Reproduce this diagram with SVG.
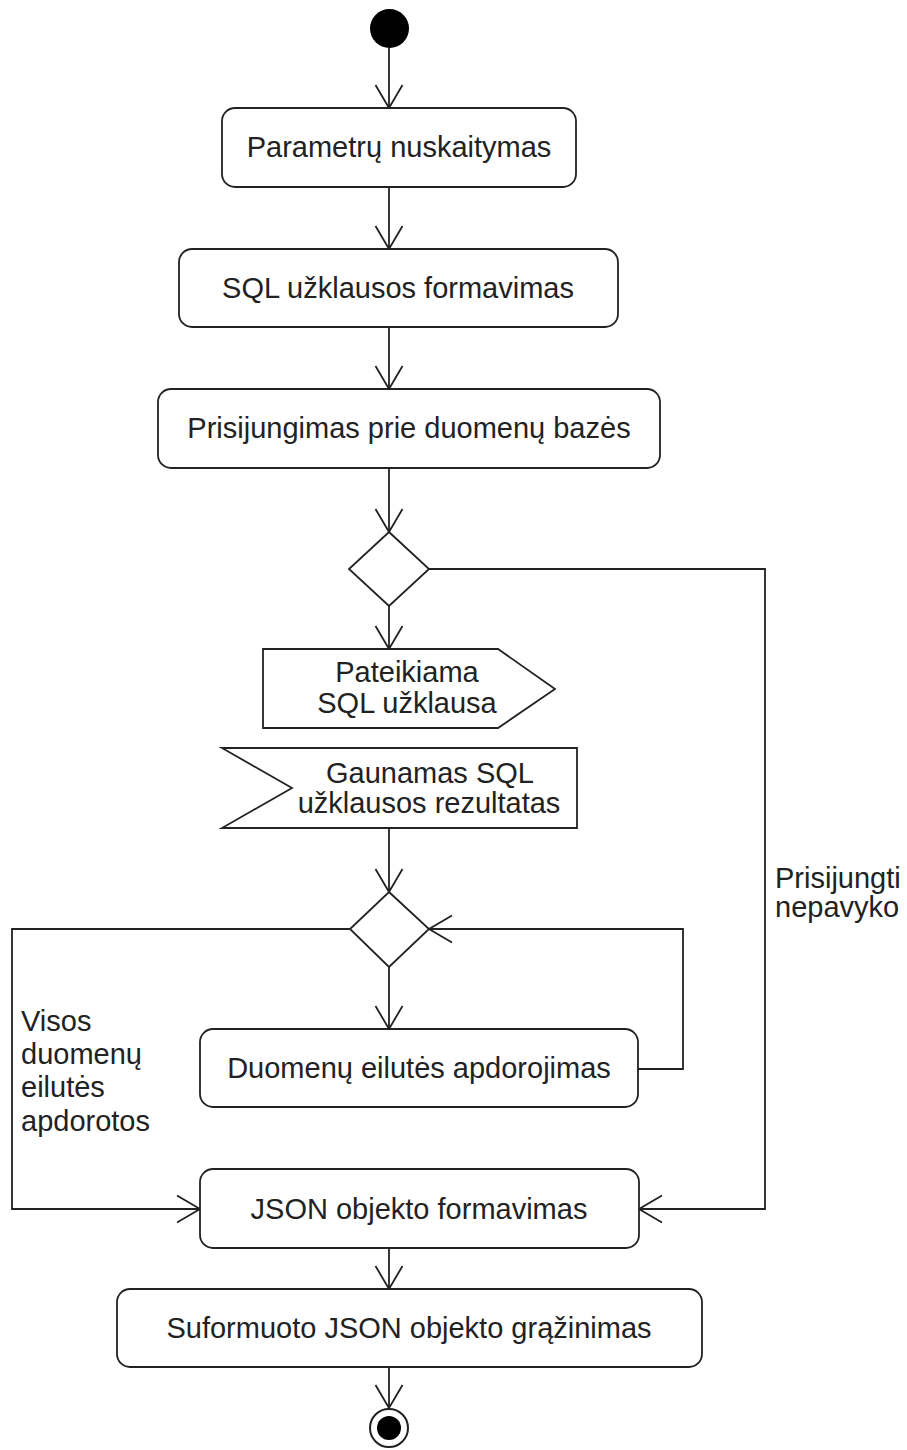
<svg xmlns="http://www.w3.org/2000/svg" width="907" height="1450" viewBox="0 0 907 1450">
<style>
.n{fill:#fff;stroke:#222;stroke-width:1.8}
.t{font-family:"Liberation Sans",Arial,sans-serif;font-size:29px;fill:#222;text-anchor:middle}
.l{font-family:"Liberation Sans",Arial,sans-serif;font-size:29px;fill:#222}
.c{fill:none;stroke:#222;stroke-width:1.8}
</style>
<defs>
<marker id="arr" viewBox="-26 -15 30 30" markerWidth="30" markerHeight="30" refX="0" refY="0" orient="auto" markerUnits="userSpaceOnUse">
<path d="M-23,-13.5 L0,0 L-23,13.5" fill="none" stroke="#222" stroke-width="1.8"/>
</marker>
</defs>
<rect width="907" height="1450" fill="#fff"/>
<g id="connectors">
<path class="c" d="M389,48 V108" marker-end="url(#arr)"/>
<path class="c" d="M389,187 V249" marker-end="url(#arr)"/>
<path class="c" d="M389,327 V389" marker-end="url(#arr)"/>
<path class="c" d="M389,468 V532" marker-end="url(#arr)"/>
<path class="c" d="M389,606 V649" marker-end="url(#arr)"/>
<path class="c" d="M429,569 H765 V1209 H639" marker-end="url(#arr)"/>
<path class="c" d="M389,828 V892" marker-end="url(#arr)"/>
<path class="c" d="M389,967 V1029" marker-end="url(#arr)"/>
<path class="c" d="M638,1069 H683 V929 H429" marker-end="url(#arr)"/>
<path class="c" d="M350,929 H12 V1209 H200" marker-end="url(#arr)"/>
<path class="c" d="M389,1248 V1289" marker-end="url(#arr)"/>
<path class="c" d="M389,1367 V1408" marker-end="url(#arr)"/>
</g>
<g id="start"><circle cx="389.5" cy="28.5" r="19.5" fill="#000"/></g>
<g id="n1"><rect class="n" x="222" y="108" width="354" height="79" rx="13"/><text class="t" x="399" y="157">Parametrų nuskaitymas</text></g>
<g id="n2"><rect class="n" x="179" y="249" width="439" height="78" rx="13"/><text class="t" x="398" y="298">SQL užklausos formavimas</text></g>
<g id="n3"><rect class="n" x="158" y="389" width="502" height="79" rx="13"/><text class="t" x="409" y="438">Prisijungimas prie duomenų bazės</text></g>
<g id="d1"><polygon class="n" points="389,532 429,569 389,606 349,569"/></g>
<g id="send"><polygon class="n" points="263,649 498,649 555,689 498,728 263,728"/><text class="t" x="407" y="682">Pateikiama</text><text class="t" x="407" y="713">SQL užklausa</text></g>
<g id="receive"><polygon class="n" points="222,748 577,748 577,828 222,828 292,788"/><text class="t" x="430" y="783">Gaunamas SQL</text><text class="t" x="429" y="813">užklausos rezultatas</text></g>
<g id="d2"><polygon class="n" points="389,892 429,929 389,967 350,929"/></g>
<g id="n4"><rect class="n" x="200" y="1029" width="438" height="78" rx="13"/><text class="t" x="419" y="1078">Duomenų eilutės apdorojimas</text></g>
<g id="n5"><rect class="n" x="200" y="1169" width="439" height="79" rx="13"/><text class="t" x="419" y="1219">JSON objekto formavimas</text></g>
<g id="n6"><rect class="n" x="117" y="1289" width="585" height="78" rx="13"/><text class="t" x="409" y="1338">Suformuoto JSON objekto grąžinimas</text></g>
<g id="end"><circle cx="389" cy="1428" r="19" fill="#fff" stroke="#222" stroke-width="2"/><circle cx="389" cy="1428" r="12" fill="#000"/></g>
<g id="labels">
<text class="l" x="775" y="888">Prisijungti</text>
<text class="l" x="775" y="917">nepavyko</text>
<text class="l" x="21" y="1031">Visos</text>
<text class="l" x="21" y="1064">duomenų</text>
<text class="l" x="21" y="1097">eilutės</text>
<text class="l" x="21" y="1131">apdorotos</text>
</g>
</svg>
